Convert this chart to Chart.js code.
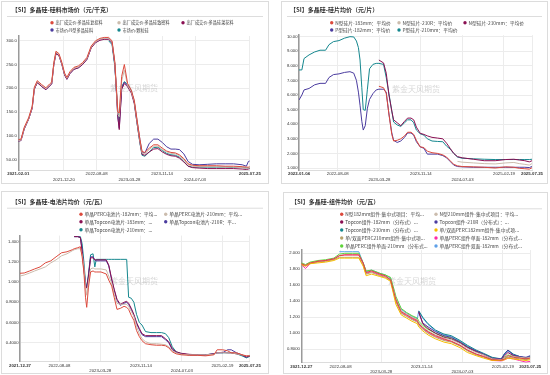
<!DOCTYPE html>
<html>
<head>
<meta charset="utf-8">
<script src="https://cdn.jsdelivr.net/npm/chart.js@4.4.0/dist/chart.umd.min.js"></script>
<style>
body{margin:0;width:550px;height:375px;background:#fff;position:relative;overflow:hidden}
.box{position:absolute;border:1px solid #dcdcdc;box-sizing:border-box}
canvas{position:absolute}
</style>
</head>
<body>
<div class="box" style="left:1px;top:1px;width:268px;height:183px"></div>
<div class="box" style="left:281px;top:1px;width:267px;height:183px"></div>
<div class="box" style="left:1px;top:191px;width:268px;height:183px"></div>
<div class="box" style="left:283px;top:192px;width:265px;height:182px"></div>
<canvas id="c1" width="275" height="187" style="left:0;top:0"></canvas>
<canvas id="c2" width="275" height="187" style="left:275px;top:0"></canvas>
<canvas id="c3" width="275" height="187" style="left:0;top:188px"></canvas>
<canvas id="c4" width="275" height="187" style="left:275px;top:188px"></canvas>
<script>
// ---- 硅料市场价 (元/千克)
const p1Dates = ['2021-02-01','2021-02-20','2021-03-15','2021-04-15','2021-05-10','2021-05-25','2021-06-15','2021-07-15','2021-08-15','2021-09-10','2021-09-25','2021-10-10','2021-10-25','2021-11-15','2021-12-05','2021-12-25','2022-01-10','2022-02-01','2022-03-01','2022-04-01','2022-05-01','2022-06-01','2022-07-01','2022-08-01','2022-09-01','2022-10-01','2022-11-01','2022-11-25','2022-12-15','2023-01-05','2023-01-15','2023-02-01','2023-02-20','2023-03-15','2023-04-10','2023-05-01','2023-05-20','2023-06-10','2023-06-25','2023-07-15','2023-08-15','2023-09-15','2023-10-15','2023-11-15','2023-12-15','2024-01-15','2024-02-15','2024-03-15','2024-04-15','2024-05-15','2024-06-15','2024-08-01','2024-10-01','2024-12-01','2025-02-01','2025-04-01','2025-06-01','2025-07-01','2025-07-15','2025-07-25'];
const p1Futou  = [92,93,118,138,162,202,216,208,201,209,213,254,278,273,255,232,223,235,244,247,254,265,289,300,305,307,307,300,255,150,148,225,250,210,196,175,135,92,67,65,74,81,81,74,68,65,64,60,52,41,38,37,37,37,36,36,35,34,34,35];
const p1Zhimi  = [90,91,116,136,160,200,214,206,199,207,211,252,276,271,253,230,221,233,242,245,252,263,287,298,303,305,305,298,252,145,140,215,238,206,193,172,132,89,64,62,71,78,78,71,66,63,62,58,50,39,36,35,35,35,34,34,33,32,32,33];
const p1Caihua = [89,90,115,135,158,198,212,204,197,205,209,250,273,269,251,228,219,231,240,243,250,261,285,296,301,303,303,296,250,140,113,198,210,203,190,168,128,86,61,59,66,72,73,66,61,58,57,53,45,36,33,32,31,31,31,31,30,29,30,31];
const p1NType  = [89,90,114,135,158,198,212,204,197,205,209,250,273,269,251,228,219,231,240,243,250,261,286,297,302,304,304,297,250,138,116,200,213,206,193,172,133,92,65,64,84,93,93,86,77,72,72,71,62,46,40,39,40,41,41,41,39,36,46,47];
const p1Keli   = [null,null,null,null,null,null,null,null,null,null,null,null,null,null,null,null,null,null,null,null,null,null,null,null,null,null,300,292,245,150,132,203,214,208,195,170,128,84,59,57,66,75,76,69,63,60,59,55,46,36,34,34,34,34,34,33,33,32,32,32];
const p1XTicks = ['2021-02-01','2021-12-20','2022-08-08','2023-03-28','2023-11-14','2024-07-03','2025-07-25'];
const p1YTicks = [50,100,150,200,250,300];

// ---- 硅片均价 (元/片)
const p2Dates = ['2022-01-04','2022-01-20','2022-02-01','2022-03-01','2022-04-01','2022-05-01','2022-06-01','2022-06-20','2022-07-15','2022-08-15','2022-09-15','2022-10-15','2022-11-05','2022-11-20','2022-12-01','2022-12-10','2022-12-20','2022-12-28','2023-01-08','2023-01-20','2023-02-01','2023-02-20','2023-03-10','2023-03-25','2023-04-20','2023-05-05','2023-05-20','2023-06-05','2023-06-15','2023-07-05','2023-07-25','2023-08-15','2023-09-01','2023-09-20','2023-10-05','2023-10-20','2023-11-10','2023-12-01','2023-12-20','2024-01-15','2024-02-15','2024-03-15','2024-04-05','2024-04-25','2024-05-15','2024-06-05','2024-07-01','2024-09-01','2024-11-01','2025-01-01','2025-03-01','2025-04-15','2025-05-15','2025-06-15','2025-07-10','2025-07-25'];
const p2N183  = [null,null,null,null,null,null,null,null,null,null,null,null,null,null,null,null,null,null,null,null,null,null,null,6.6,6.5,6.1,4.7,3.3,2.85,2.9,3.0,3.2,3.45,3.45,3.3,2.9,2.45,2.4,2.15,2.05,2.0,1.9,1.75,1.5,1.25,1.15,1.1,1.08,1.05,1.0,1.08,1.05,0.98,0.95,0.92,1.02];
const p2N210R = [null,null,null,null,null,null,null,null,null,null,null,null,null,null,null,null,null,null,null,null,null,null,null,null,null,null,null,null,null,null,null,null,null,null,null,null,null,null,null,null,null,null,null,null,null,1.45,1.4,1.35,1.3,1.28,1.35,1.38,1.3,1.25,1.2,1.3];
const p2N210  = [null,null,null,null,null,null,null,null,null,null,null,null,null,null,null,null,null,null,null,null,null,null,null,8.4,8.2,7.5,6.0,4.9,4.3,4.1,3.9,4.2,4.42,4.42,4.3,3.8,3.38,3.3,3.2,3.1,3.05,3.0,2.7,2.35,2.0,1.78,1.7,1.6,1.5,1.5,1.58,1.6,1.55,1.5,1.42,1.5];
const p2P182  = [5.66,6.0,6.35,6.45,6.7,6.8,6.8,7.2,7.4,7.45,7.55,7.6,7.5,7.0,6.2,5.3,4.2,3.6,3.9,5.1,5.7,6.1,6.35,6.4,6.4,6.2,4.7,3.4,2.9,2.75,2.85,3.1,3.4,3.4,3.25,2.8,2.45,2.35,1.95,1.95,1.95,1.85,1.7,1.45,1.2,1.1,1.08,1.05,1.05,1.05,1.05,1.05,1.05,1.05,1.03,1.1];
const p2P210  = [7.72,7.72,8.5,8.75,8.95,9.07,9.07,9.45,9.66,9.73,9.9,10.0,9.98,9.7,9.25,8.4,6.5,5.0,4.95,6.4,7.8,8.1,8.17,8.17,8.1,7.2,6.1,4.9,4.15,3.95,3.85,4.1,4.3,4.3,4.1,3.6,3.35,3.25,3.0,2.85,2.82,2.8,2.5,2.3,2.0,1.75,1.67,1.63,1.6,1.58,1.58,1.58,1.58,1.58,1.58,1.6];
const p2XTicks = ['2022-01-04','2022-08-08','2023-03-28','2023-11-14','2024-07-03','2025-02-19','2025-07-25'];
const p2YTicks = [1,2,3,4,5,6,7,8,9,10];

// ---- 电池片均价 (元/瓦)
const p3Dates = ['2021-12-27','2022-01-20','2022-02-20','2022-03-20','2022-04-20','2022-05-20','2022-06-20','2022-07-20','2022-08-20','2022-09-20','2022-10-20','2022-10-31','2022-11-20','2022-12-05','2022-12-15','2022-12-25','2023-01-03','2023-01-10','2023-01-20','2023-02-01','2023-02-15','2023-02-25','2023-03-05','2023-04-01','2023-05-01','2023-05-15','2023-06-01','2023-06-15','2023-07-01','2023-07-20','2023-08-10','2023-08-25','2023-09-05','2023-09-20','2023-10-05','2023-10-20','2023-11-05','2023-11-20','2023-12-10','2024-01-10','2024-02-10','2024-03-10','2024-04-01','2024-04-20','2024-05-10','2024-06-01','2024-07-01','2024-08-15','2024-10-01','2024-11-15','2025-01-01','2025-01-20','2025-02-20','2025-03-20','2025-04-10','2025-05-10','2025-06-10','2025-07-05','2025-07-25'];
const p3Perc182 = [1.087,1.09,1.11,1.13,1.15,1.19,1.21,1.25,1.29,1.30,1.32,1.33,1.34,1.35,1.25,1.1,0.85,0.75,0.95,1.10,1.11,1.10,1.10,1.10,1.08,1.02,0.96,0.85,0.73,0.74,0.76,0.75,0.73,0.67,0.62,0.52,0.46,0.42,0.39,0.38,0.375,0.375,0.37,0.35,0.31,0.29,0.28,0.275,0.275,0.27,0.28,0.33,0.33,0.32,0.3,0.3,0.28,0.27,0.27];
const p3Perc210 = [1.06,1.07,1.09,1.11,1.13,1.15,1.19,1.22,1.26,1.28,1.31,1.32,1.33,1.33,1.27,1.15,0.95,0.87,1.0,1.13,1.14,1.13,1.13,1.13,1.12,1.06,0.99,0.88,0.79,0.78,0.78,0.78,0.76,0.71,0.66,0.56,0.49,0.44,0.41,0.39,0.39,0.385,0.38,0.36,0.32,0.3,0.285,0.28,0.28,0.28,0.285,0.3,0.3,0.3,0.3,0.29,0.28,0.27,0.275];
const p3Top183  = [null,null,null,null,null,null,null,null,null,null,null,1.45,1.45,1.44,1.30,1.12,0.97,0.94,1.05,1.24,1.24,1.22,1.22,1.22,1.22,1.17,1.03,0.93,0.83,0.78,0.8,0.81,0.79,0.74,0.68,0.6,0.54,0.49,0.47,0.47,0.47,0.47,0.44,0.41,0.34,0.31,0.295,0.285,0.28,0.28,0.29,0.3,0.305,0.30,0.30,0.29,0.28,0.26,0.27];
const p3Top210R = [null,null,null,null,null,null,null,null,null,null,null,1.45,1.45,1.44,1.32,1.14,0.98,0.95,1.06,1.25,1.25,1.22,1.21,1.21,1.21,1.16,1.02,0.92,0.82,0.77,0.79,0.8,0.78,0.73,0.67,0.59,0.53,0.48,0.46,0.46,0.46,0.46,0.43,0.40,0.33,0.305,0.29,0.28,0.28,0.28,0.29,0.3,0.3,0.33,0.33,0.3,0.28,0.255,0.275];
const p3Top210  = [null,null,null,null,null,null,null,null,null,null,null,1.45,1.45,1.45,1.38,1.20,1.0,0.95,1.08,1.27,1.28,1.15,1.225,1.225,1.225,1.225,1.225,1.225,1.225,1.225,1.225,1.225,0.85,0.84,0.80,0.68,0.60,0.575,0.51,0.50,0.50,0.50,0.49,0.45,0.36,0.31,0.29,0.28,0.28,0.28,0.29,0.3,0.3,0.3,0.3,0.29,0.27,0.25,0.265];
const p3XTicks = ['2021-12-27','2022-08-08','2023-03-28','2023-11-14','2024-07-03','2025-02-19','2025-07-25'];
const p3YTicks = [0.4,0.6,0.8,1.0,1.2,1.4];

// ---- 组件均价 (元/瓦)
const p4Dates = ['2021-12-27','2022-01-20','2022-02-15','2022-04-01','2022-05-15','2022-07-01','2022-08-01','2022-09-01','2022-10-15','2022-11-20','2022-12-15','2023-01-01','2023-02-01','2023-03-20','2023-04-20','2023-05-20','2023-06-05','2023-06-20','2023-07-20','2023-08-20','2023-09-20','2023-10-20','2023-10-28','2023-11-20','2023-12-20','2024-02-01','2024-03-20','2024-05-01','2024-06-20','2024-08-01','2024-09-20','2024-11-01','2024-12-20','2025-02-10','2025-03-01','2025-03-20','2025-04-20','2025-05-25','2025-07-01','2025-07-25'];
const p4N182     = [1.87,1.85,1.88,1.90,1.91,1.93,1.97,1.98,1.98,1.98,1.88,1.76,1.78,1.74,1.72,1.67,1.54,1.42,1.27,1.23,1.19,1.16,1.12,1.07,1.02,0.97,0.93,0.90,0.85,0.79,0.74,0.71,0.67,0.665,0.68,0.72,0.70,0.69,0.68,0.69];
const p4N210     = [null,null,null,null,null,null,null,null,null,null,null,null,null,null,null,null,1.55,1.43,1.28,1.24,1.20,1.17,1.13,1.08,1.03,0.98,0.94,0.92,0.87,0.81,0.76,0.73,0.68,0.67,0.69,0.72,0.71,0.70,0.69,0.70];
const p4Top182   = [null,null,null,null,null,null,null,null,null,null,null,null,null,null,null,null,null,null,null,null,null,null,1.27,1.12,1.06,1.00,0.95,0.93,0.88,0.82,0.77,0.73,0.68,0.67,0.72,0.76,0.72,0.70,0.69,0.70];
const p4Top210R  = [null,null,null,null,null,null,null,null,null,null,null,null,null,null,null,null,null,null,null,null,null,null,1.26,1.13,1.08,1.02,0.97,0.95,0.89,0.83,0.78,0.74,0.69,0.68,0.74,0.79,0.73,0.71,0.70,0.72];
const p4Top210   = [null,null,null,null,null,null,null,null,null,null,null,null,null,null,null,null,null,null,null,null,null,null,1.28,1.20,1.12,1.04,0.99,0.97,0.91,0.85,0.79,0.75,0.70,0.68,0.75,0.79,0.74,0.71,0.69,0.71];
const p4Perc182  = [1.86,1.84,1.87,1.88,1.89,1.91,1.94,1.94,1.94,1.94,1.84,1.72,1.74,1.71,1.69,1.65,1.50,1.36,1.23,1.19,1.15,1.12,1.08,1.03,0.98,0.93,0.89,0.87,0.82,0.76,0.72,0.69,0.66,0.66,0.67,0.69,0.68,0.67,0.66,0.67];
const p4Perc210  = [1.86,1.84,1.87,1.89,1.90,1.92,1.95,1.95,1.95,1.95,1.85,1.74,1.76,1.72,1.70,1.66,1.52,1.39,1.25,1.21,1.17,1.14,1.10,1.05,1.00,0.95,0.91,0.89,0.84,0.78,0.73,0.70,0.67,0.665,0.68,0.70,0.69,0.68,0.67,0.68];
const p4Single182= [1.86,1.81,1.87,1.90,1.91,1.93,1.97,1.98,1.98,1.98,1.87,1.75,1.77,1.73,1.71,1.67,1.53,1.40,1.26,1.22,1.18,1.15,1.11,1.06,1.01,0.96,0.92,0.90,0.85,0.79,0.74,0.71,0.66,0.655,0.67,0.69,0.68,0.66,0.64,0.65];
const p4Single210= [1.88,1.86,1.89,1.91,1.92,1.94,1.99,2.00,2.00,2.00,1.88,1.78,1.79,1.75,1.73,1.70,1.58,1.46,1.31,1.26,1.22,1.19,1.15,1.10,1.05,1.00,0.96,0.94,0.89,0.83,0.77,0.74,0.69,0.67,0.70,0.73,0.71,0.70,0.69,0.70];
const p4Double182= [null,null,null,null,null,null,2.02,2.02,2.02,2.02,1.88,1.77,1.79,1.75,1.73,1.69,1.56,1.44,1.30,1.25,1.21,1.18,1.28,1.19,1.11,1.03,0.98,0.96,0.90,0.84,0.78,0.74,0.69,0.67,0.74,0.78,0.73,0.71,0.69,0.71];
const p4XTicks = ['2021-12-27','2022-08-08','2023-03-28','2023-11-14','2024-07-03','2025-02-19','2025-07-25'];
const p4YTicks = [0.8,1.0,1.2,1.4,1.6,1.8,2.0];

const COLORS = ['#dc4a3d','#cbbcad','#8a1053','#4b3c9f','#15878e','#f6bc00','#b7a46c','#ff2aa8','#5fd43a','#5ea0e8'];
const CJK = '"Noto Sans CJK SC", sans-serif';
const day = s => Date.parse(s) / 864e5;

// title, legend grid and watermark
const decor = {
  id: 'decor',
  beforeDatasetsDraw(chart, args, o) {
    const ctx = chart.ctx;
    ctx.save();
    ctx.font = '8px ' + CJK;
    ctx.fillStyle = 'rgba(140,140,140,0.35)';
    ctx.textAlign = 'center';
    ctx.textBaseline = 'middle';
    ctx.fillText('紫金天风期货', o.mark[0], o.mark[1]);
    ctx.restore();
  },
  afterDraw(chart, args, o) {
    const ctx = chart.ctx;
    ctx.save();
    ctx.fillStyle = '#333';
    ctx.font = 'bold 6px ' + CJK;
    ctx.textBaseline = 'middle';
    ctx.fillText(o.title, o.tpos[0], o.tpos[1]);
    ctx.strokeStyle = '#dddddd';
    ctx.lineWidth = 1;
    ctx.beginPath();
    ctx.moveTo(o.sep[0], o.sep[2] + 0.5);
    ctx.lineTo(o.sep[1], o.sep[2] + 0.5);
    ctx.stroke();
    ctx.font = o.lf + 'px ' + CJK;
    chart.data.datasets.forEach((ds, i) => {
      const x = o.cols[i % o.cols.length], y = o.rows[Math.floor(i / o.cols.length)];
      ctx.fillStyle = ds.borderColor;
      ctx.beginPath();
      ctx.arc(x, y, 1.7, 0, Math.PI * 2);
      ctx.fill();
      ctx.fillStyle = '#444';
      ctx.fillText(ds.label, x + 3.5, y + 0.2);
    });
    ctx.restore();
  }
};

function panel(id, cfg) {
  const last = cfg.xTicks.length - 1;
  new Chart(document.getElementById(id), {
    type: 'line',
    data: {
      datasets: cfg.series.map((s, i) => ({
        label: s[0],
        data: cfg.dates.map((d, j) => ({ x: day(d), y: s[1][j] })),
        borderColor: COLORS[i],
        backgroundColor: COLORS[i],
        borderWidth: 1,
        pointRadius: 0,
        fill: false
      }))
    },
    options: {
      responsive: false,
      animation: false,
      layout: { padding: { left: 0, top: cfg.area[1], right: 275 - cfg.area[2], bottom: 0 } },
      plugins: { legend: { display: false }, tooltip: { enabled: false }, decor: cfg.decor },
      scales: {
        x: {
          type: 'linear',
          min: day(cfg.xTicks[0]),
          max: day(cfg.xTicks[last]),
          afterBuildTicks: a => { a.ticks = cfg.xTicks.map(t => ({ value: day(t) })); },
          afterFit: a => { a.height = 187 - cfg.area[3]; },
          ticks: {
            autoSkip: false, maxRotation: 0, padding: 1.5, color: '#333',
            callback: (v, i) => cfg.xRow[i] ? ['', cfg.xTicks[i]] : [cfg.xTicks[i], ''],
            font: c => ({ family: 'Liberation Sans', size: 4.3, lineHeight: 1.25,
              weight: (c.index === 0 || c.index === last) ? 'bold' : 'normal' })
          },
          grid: { color: '#ececec', drawTicks: false },
          border: { color: '#dcdcdc' }
        },
        y: {
          min: cfg.y[0],
          max: cfg.y[1],
          afterBuildTicks: a => { a.ticks = cfg.yTicks.map(v => ({ value: v })); },
          afterFit: a => { a.width = cfg.area[0]; },
          ticks: { callback: v => v.toPrecision(4), color: '#333', padding: 1.5,
            font: { family: 'Liberation Sans', size: 4.2 } },
          grid: { color: '#ececec', drawTicks: false },
          border: { color: '#9a9a9a', width: 1.5 }
        }
      }
    },
    plugins: [decor]
  });
}

panel('c1', {
  dates: p1Dates, xTicks: p1XTicks, xRow: [0,1,0,1,0,1,0], yTicks: p1YTicks,
  y: [28, 310], area: [18.3, 36, 249.8, 170],
  series: [['出厂成交价:多晶硅复投料', p1Futou], ['出厂成交价:多晶硅致密料', p1Zhimi], ['出厂成交价:多晶硅菜花料', p1Caihua],
           ['市场价:N型多晶硅料', p1NType], ['市场价:颗粒硅', p1Keli]],
  decor: { title: '【SI】多晶硅-硅料市场价（元/千克）', tpos: [11.7, 10], sep: [7, 263, 16],
           cols: [52, 119, 183], rows: [22.7, 30], lf: 4.2, mark: [134, 88] }
});

panel('c2', {
  dates: p2Dates, xTicks: p2XTicks, xRow: [0,0,1,0,1,0,0], yTicks: p2YTicks,
  y: [0.863, 10.1], area: [24, 35.2, 257, 170],
  series: [['N型硅片-183mm：平均价', p2N183], ['N型硅片-210R：平均价', p2N210R], ['N型硅片-210mm：平均价', p2N210],
           ['P型硅片-182mm：平均价', p2P182], ['P型硅片-210mm：平均价', p2P210]],
  decor: { title: '【SI】多晶硅-硅片均价（元/片）', tpos: [15, 10], sep: [12, 267, 16],
           cols: [56.7, 124, 190], rows: [22.7, 30], lf: 4.8, mark: [141, 89] }
});

panel('c3', {
  dates: p3Dates, xTicks: p3XTicks, xRow: [0,0,1,0,1,0,0], yTicks: p3YTicks,
  y: [0.212, 1.46], area: [20, 47.6, 249.9, 173.7],
  series: [['单晶PERC电池片-182mm：平均...', p3Perc182], ['单晶PERC电池片-210mm：平均...', p3Perc210],
           ['单晶Topcon电池片-183mm：...', p3Top183], ['单晶Topcon电池片-210R：平...', p3Top210R],
           ['单晶Topcon电池片-210mm：...', p3Top210]],
  decor: { title: '【SI】多晶硅-电池片均价（元/瓦）', tpos: [11.7, 13.7], sep: [7, 263, 19.7],
           cols: [81, 165.7], rows: [26.3, 33.7, 41.7], lf: 4.8, mark: [134, 92.7] }
});

panel('c4', {
  dates: p4Dates, xTicks: p4XTicks, xRow: [0,0,1,0,1,0,0], yTicks: p4YTicks,
  y: [0.6325, 2.04], area: [26.3, 62.1, 255.2, 174.7],
  series: [['N型182mm组件-集中式项目：平均...', p4N182], ['N型210mm组件-集中式项目：平均...', p4N210],
           ['Topcon组件-182mm（分布式）...', p4Top182], ['Topcon组件-210R（分布式）：...', p4Top210R],
           ['Topcon组件-210mm（分布式）...', p4Top210], ['单/双面PERC182mm组件-集中式项...', p4Perc182],
           ['单/双面PERC210mm组件-集中式项...', p4Perc210], ['单晶PERC组件单面-182mm（分布式...', p4Single182],
           ['单晶PERC组件单面-210mm（分布式...', p4Single210], ['单晶PERC组件双面-182mm（分布式...', p4Double182]],
  decor: { title: '【SI】多晶硅-组件均价（元/瓦）', tpos: [16, 13.7], sep: [14, 267, 20.3],
           cols: [66.7, 161], rows: [26.3, 34, 42, 50, 58], lf: 4.8, mark: [137, 93] }
});
</script>
</body>
</html>
